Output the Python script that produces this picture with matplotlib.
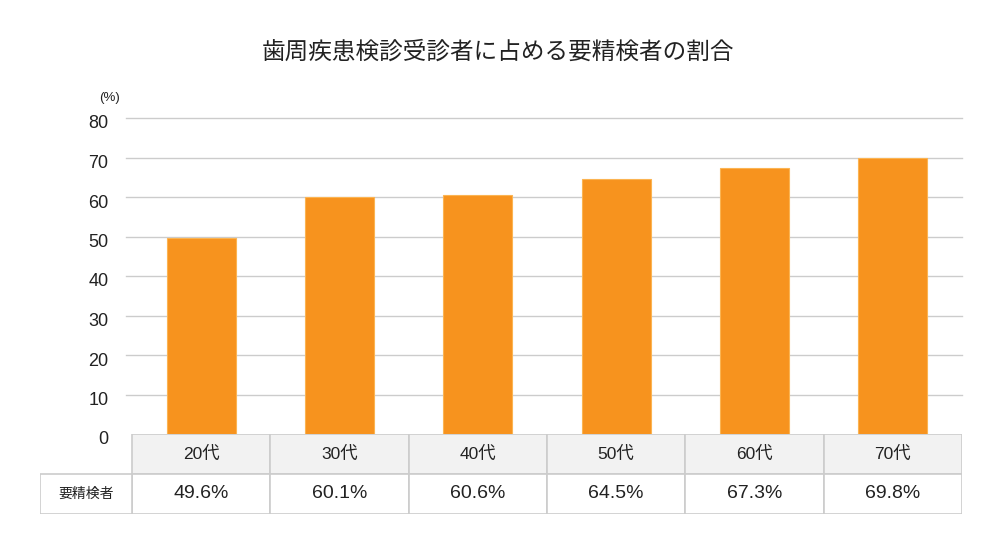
import matplotlib
matplotlib.use("Agg")
import matplotlib.pyplot as plt
from matplotlib.patches import Rectangle
from matplotlib.transforms import ScaledTranslation

plt.rcParams['font.family'] = ['Liberation Sans', 'Noto Sans CJK JP', 'DejaVu Sans']

title = "歯周疾患検診受診者に占める要精検者の割合"
ages = ["20代", "30代", "40代", "50代", "60代", "70代"]
ratio = [49.6, 60.1, 60.6, 64.5, 67.3, 69.8]
row_label = "要精検者"
y_ticks = [0, 10, 20, 30, 40, 50, 60, 70, 80]

bar_color = "#f7931e"
line_color = "#cccccc"
head_fill = "#f2f2f2"

W, H = 1000, 560
fig = plt.figure(figsize=(10, 5.6), dpi=100)

# chart area (pixel box 132..962 x 118..434)
ax = fig.add_axes([132 / W, 1 - 434 / H, 830 / W, 316 / H])
n = len(ages)
x = list(range(n))
ax.bar(x, ratio, width=0.5, color=bar_color, edgecolor="#fbb452", linewidth=0.8, zorder=3)
ax.set_xlim(-0.5, n - 0.5)
ax.set_ylim(0, 80)
ax.set_yticks(y_ticks)
ax.set_xticks([])
for y in y_ticks[1:]:
    ax.axhline(y, xmin=-6 / 830, xmax=1, color=line_color, lw=1, clip_on=False, zorder=1)
for s in ax.spines.values():
    s.set_visible(False)
ax.tick_params(axis="y", length=0, pad=17, labelsize=13, labelcolor="#222222")
off = ScaledTranslation(0, -4 / 100, fig.dpi_scale_trans)
for lab in ax.get_yticklabels():
    lab.set_transform(lab.get_transform() + off)

fig.text(110 / W, 1 - 98 / H, "(%)", ha="center", va="center", fontsize=9.5, color="#222222")
fig.text(498 / W, 1 - 52 / H, title, ha="center", va="center", fontsize=17, color="#222222")

# table below the chart (pixel box 40..962 x 434..514)
tax = fig.add_axes([40 / W, 1 - 514 / H, 922 / W, 80 / H])
lab_w = 92 / (830 / n)
tax.set_xlim(-0.5 - lab_w, n - 0.5)
tax.set_ylim(0, 2)
tax.axis("off")

for i in range(n):
    tax.add_patch(Rectangle((i - 0.5, 1), 1, 1, facecolor=head_fill, edgecolor=line_color, lw=1.2))
    tax.add_patch(Rectangle((i - 0.5, 0), 1, 1, facecolor="white", edgecolor=line_color, lw=1.2))
    tax.text(i, 1.5, ages[i], ha="center", va="center", fontsize=12.5, color="#222222")
    tax.text(i, 0.5, f"{ratio[i]:.1f}%", ha="center", va="center", fontsize=14, color="#222222")
tax.add_patch(Rectangle((-0.5 - lab_w, 0), lab_w, 1, facecolor="white", edgecolor=line_color, lw=1.2))
tax.text(-0.5 - lab_w / 2, 0.5, row_label, ha="center", va="center", fontsize=10, color="#222222")

fig.savefig("out.png", dpi=100)
